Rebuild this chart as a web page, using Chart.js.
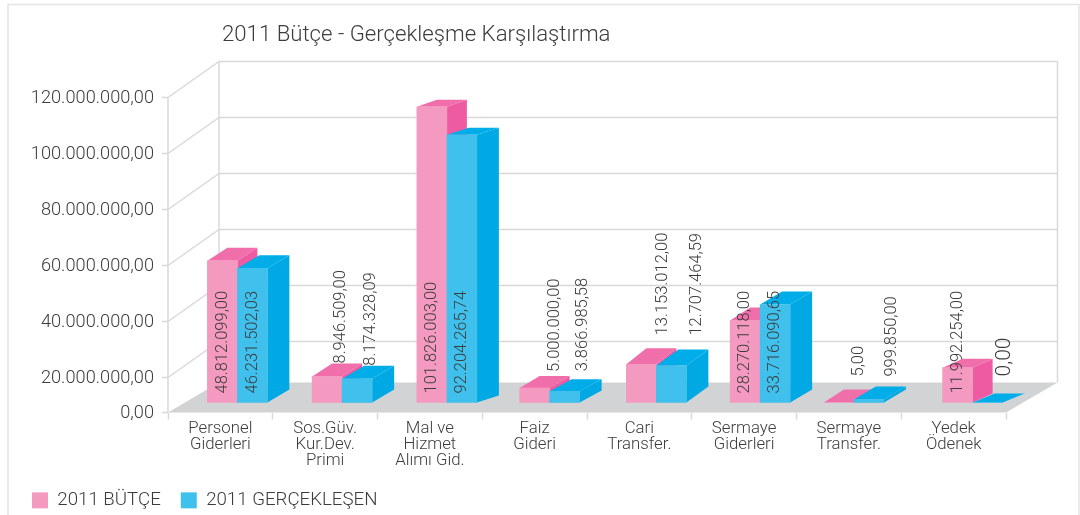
<!DOCTYPE html>
<html><head><meta charset="utf-8">
<style>html,body{margin:0;padding:0;background:#fff}canvas{display:block}</style>
<script src="https://cdn.jsdelivr.net/npm/chart.js@4/dist/chart.umd.js"></script>
</head><body>
<canvas id="c" width="1080" height="515"></canvas>
<script>
const titleText = '2011 Bütçe - Gerçekleşme Karşılaştırma';
const categories = [['Personel','Giderleri'],['Sos.Güv.','Kur.Dev.','Primi'],['Mal ve','Hizmet','Alımı Gid.'],['Faiz','Gideri'],['Cari','Transfer.'],['Sermaye','Giderleri'],['Sermaye','Transfer.'],['Yedek','Ödenek']];
const seriesNames = ['2011 BÜTÇE','2011 GERÇEKLEŞEN'];
const budget = [48812099.00,8946509.00,101826003.00,5000000.00,13153012.00,28270118.00,5.00,11992254.00];
const actual = [46231502.03,8174328.09,92204265.74,3866985.58,12707464.59,33716090.65,999850.00,0.00];
const budgetLabels = ['48.812.099,00','8.946.509,00','101.826.003,00','5.000.000,00','13.153.012,00','28.270.118,00','5,00','11.992.254,00'];
const actualLabels = ['46.231.502,03','8.174.328,09','92.204.265,74','3.866.985,58','12.707.464,59','33.716.090,65','999.850,00','0,00'];
const yTickValues = [0,20000000,40000000,60000000,80000000,100000000,120000000];
const yTickLabels = ['0,00','20.000.000,00','40.000.000,00','60.000.000,00','80.000.000,00','100.000.000,00','120.000.000,00'];

// layout / style of the pseudo-3D drawing
const FONT = 'Roboto, "Liberation Sans", Arial, sans-serif';
const WEIGHT = '300';
const TEXT = '#3c3c3c', GRID = '#d9d9d9', FLOOR = '#d1d3d4';
const styles = [
  {front:'#f49ac1', top:'#f06eaa', side:'#ee5ba2', dx:20},
  {front:'#40c0ec', top:'#00ade8', side:'#00a8e4', dx:22}
];
const groupNudge = [17,17,17,15,17,16,5,19];
const groupDepthY = [13,13,7,12,16,13,13,9];
const insideLabel = [[1,0,1,0,0,1,0,1],[1,0,1,0,0,1,0,0]];
const labelLift = [[0,0,0,4,13,0,13,0],[0,0,0,8,14,0,10,17]];
const labelShift = [[0,14,0,20,21,0,20,0],[0,14,0,18,25,0,23,17]];
const wall = {dx:51, dyTop:36, dyFloor:30, right:1057.5};

function drawFaces(chart, di){
  const {ctx} = chart, s = styles[di];
  ctx.save();
  chart.getDatasetMeta(di).data.forEach((el,i)=>{
    const l = el.x - el.width/2, r = el.x + el.width/2, t = el.y, b = el.base;
    const dy = groupDepthY[i], dx = s.dx;
    ctx.fillStyle = s.side;
    ctx.beginPath(); ctx.moveTo(r,t); ctx.lineTo(r+dx,t-dy); ctx.lineTo(r+dx,b-dy); ctx.lineTo(r,b); ctx.closePath(); ctx.fill();
    ctx.fillStyle = s.top;
    ctx.beginPath(); ctx.moveTo(l,t); ctx.lineTo(l+dx,t-dy); ctx.lineTo(r+dx,t-dy); ctx.lineTo(r,t); ctx.closePath(); ctx.fill();
  });
  ctx.restore();
}
function drawWalls(chart){
  const {ctx, chartArea:a} = chart, y = chart.scales.y;
  const bottom = a.bottom, backLeft = a.left + wall.dx;
  ctx.save();
  ctx.fillStyle = FLOOR;
  ctx.beginPath();
  ctx.moveTo(a.left, bottom); ctx.lineTo(a.right, bottom);
  ctx.lineTo(wall.right, bottom - wall.dyFloor); ctx.lineTo(backLeft, bottom - wall.dyFloor);
  ctx.closePath(); ctx.fill();
  ctx.strokeStyle = GRID; ctx.lineWidth = 1.5;
  ctx.beginPath();
  yTickValues.slice(1).forEach(v=>{
    const p = y.getPixelForValue(v);
    ctx.moveTo(a.left, p); ctx.lineTo(backLeft, p - wall.dyTop); ctx.lineTo(wall.right, p - wall.dyTop);
  });
  const topP = y.getPixelForValue(yTickValues[yTickValues.length-1]);
  ctx.moveTo(a.left, topP); ctx.lineTo(a.left, bottom);
  ctx.moveTo(backLeft, topP - wall.dyTop); ctx.lineTo(backLeft, bottom - wall.dyFloor);
  ctx.moveTo(wall.right, topP - wall.dyTop); ctx.lineTo(wall.right, bottom - wall.dyFloor);
  ctx.stroke();
  ctx.restore();
}
function drawValueLabels(chart){
  const {ctx} = chart;
  ctx.save();
  ctx.fillStyle = TEXT;
  ctx.textAlign = 'left'; ctx.textBaseline = 'middle';
  [budgetLabels, actualLabels].forEach((labels,di)=>{
    chart.getDatasetMeta(di).data.forEach((el,i)=>{
      const inside = insideLabel[di][i];
      const x = el.x + labelShift[di][i];
      const yp = inside ? el.base - 9 : el.y - groupDepthY[i] - labelLift[di][i];
      ctx.font = WEIGHT + ' ' + (labels[i] === '0,00' ? 21 : 16.5) + 'px ' + FONT;
      ctx.save();
      ctx.translate(x, yp); ctx.rotate(-Math.PI/2);
      ctx.fillText(labels[i], 0, 0);
      ctx.restore();
    });
  });
  ctx.restore();
}

const scene3d = {
  id:'scene3d',
  afterLayout(chart){
    chart.titleBlock.left = 222;
    chart.legend.left = 32 - chart.legend.options.labels.padding;
    chart.legend.top = 491 - chart.legend.options.labels.padding;
    chart.scales.x.bottom = chart.height; // keep the three-line category labels out of the label clip
  },
  afterDatasetsUpdate(chart){
    chart.data.datasets.forEach((d,di)=>{
      chart.getDatasetMeta(di).data.forEach((el,i)=>{ el.x += groupNudge[i]; });
    });
  },
  beforeDraw(chart){
    const {ctx} = chart;
    ctx.save();
    ctx.strokeStyle = '#e4e4e4'; ctx.lineWidth = 1.5;
    ctx.beginPath(); ctx.moveTo(8,515); ctx.lineTo(8,4.5); ctx.lineTo(1079,4.5); ctx.lineTo(1079,515); ctx.stroke();
    ctx.restore();
  },
  // draw back to front: walls, then each series with its depth faces, then the labels
  beforeDatasetsDraw(chart){
    drawWalls(chart);
    [0,1].forEach(di=>{
      drawFaces(chart, di);
      chart.getDatasetMeta(di).controller.draw();
    });
    drawValueLabels(chart);
    return false;
  }
};

new Chart(document.getElementById('c'), {
  type:'bar',
  data:{
    labels:categories,
    datasets:[
      {label:seriesNames[0], data:budget, backgroundColor:styles[0].front, yAxisID:'yBars', order:1},
      {label:seriesNames[1], data:actual, backgroundColor:styles[1].front, yAxisID:'yBars', order:2}
    ]
  },
  plugins:[scene3d],
  options:{
    responsive:false, animation:false, events:[],
    layout:{padding:{left:0,right:74,top:22,bottom:0}},
    datasets:{bar:{barThickness:30, borderWidth:0}},
    plugins:{
      tooltip:{enabled:false},
      title:{display:true, text:titleText, align:'start', fullSize:false,
        color:TEXT, font:{family:FONT,size:22.2,weight:WEIGHT,lineHeight:1.2}, padding:{top:0,bottom:12.36}},
      legend:{display:true, position:'bottom', align:'start',
        labels:{boxWidth:16, boxHeight:16, padding:20, color:TEXT, font:{family:FONT,size:18.7,weight:WEIGHT}}}
    },
    scales:{
      x:{
        type:'category',
        afterFit(s){ s.height = 515 - 412.5 - s.chart.legend.height; },
        grid:{offset:true, drawOnChartArea:false, drawTicks:true, tickLength:7, tickColor:GRID, tickWidth:1.5},
        border:{display:false},
        ticks:{maxRotation:0, minRotation:0, autoSkip:false, padding:1, color:TEXT, font:{family:FONT,size:16.8,weight:WEIGHT,lineHeight:0.96}}
      },
      y:{
        type:'linear', position:'left', min:0, max:133040000,
        afterFit(s){ s.width = 168; },
        afterBuildTicks(s){
          s.ticks = yTickValues.map(value=>({value}));
          // the reference compresses the 0 to 20M band of its axis
          const breakV = yTickValues[1], breakPx = 35;
          s.getPixelForValue = function(v){
            if (v <= breakV) return this.bottom - (v/breakV)*breakPx;
            return this.bottom - breakPx - (v-breakV)/(this.max-breakV)*(this.bottom-breakPx-this.top);
          };
        },
        grid:{drawOnChartArea:false, drawTicks:true, tickLength:6, tickColor:GRID, tickWidth:1.5},
        border:{display:false},
        ticks:{autoSkip:false, padding:8, labelOffset:1, color:TEXT, font:{family:FONT,size:18.2,weight:WEIGHT},
          callback:(v,i)=>yTickLabels[i]}
      },
      yBars:{type:'linear', display:false, position:'left', min:-3448000, max:117586000}
    }
  }
});
</script>
</body></html>
